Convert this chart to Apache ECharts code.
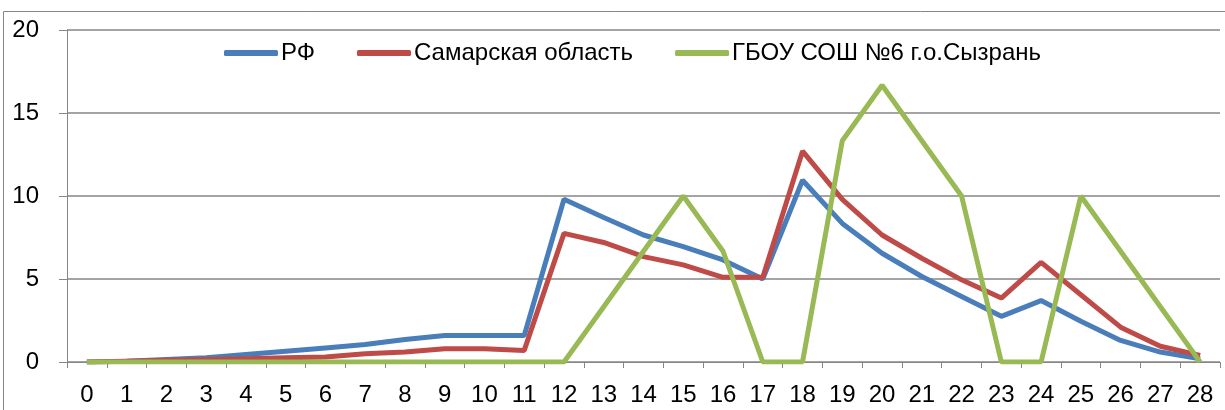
<!DOCTYPE html>
<html>
<head>
<meta charset="utf-8">
<script src="https://cdn.jsdelivr.net/npm/echarts@6/dist/echarts.min.js"></script>
<style>
  html, body { margin: 0; padding: 0; background: #fff; }
  #chart { width: 1225px; height: 410px; }
</style>
</head>
<body>
<div id="chart"></div>
<script>
  const categories = ['0', '1', '2', '3', '4', '5', '6', '7', '8', '9', '10', '11', '12', '13', '14',
    '15', '16', '17', '18', '19', '20', '21', '22', '23', '24', '25', '26', '27', '28']
  const rf = [0, 0.05, 0.15, 0.25, 0.45, 0.65, 0.85, 1.05, 1.35, 1.6, 1.6, 1.6, 9.8, 8.7, 7.65,
    6.95, 6.15, 5.0, 10.95, 8.35, 6.55, 5.15, 3.95, 2.75, 3.7, 2.45, 1.3, 0.6, 0.2]
  const samara = [0, 0.05, 0.1, 0.15, 0.2, 0.25, 0.3, 0.5, 0.6, 0.8, 0.8, 0.7, 7.75, 7.2, 6.35,
    5.85, 5.1, 5.1, 12.7, 9.8, 7.65, 6.25, 4.95, 3.85, 6.0, 4.05, 2.1, 0.95, 0.4]
  const school = [0, 0, 0, 0, 0, 0, 0, 0, 0, 0, 0, 0, 0, 3.33, 6.67,
    10, 6.67, 0, 0, 13.33, 16.67, 13.33, 10, 0, 0, 10, 6.67, 3.33, 0]
  const seriesNames = ['РФ', 'Самарская область', 'ГБОУ СОШ №6 г.о.Сызрань']
  const colors = ['#4a7ebb', '#be4b48', '#98b954']

  const font = '"Liberation Sans Narrow", "Liberation Sans", sans-serif'
  const gray = '#868686'

  const chart = echarts.init(document.getElementById('chart'))

  const makeLine = (name, data, i) => ({
    name,
    type: 'line',
    data,
    symbol: 'none',
    lineStyle: { width: 5, color: colors[i] },
    itemStyle: { color: colors[i] },
    z: 3 + i,
  })

  chart.setOption({
    animation: false,
    textStyle: { fontFamily: font },
    graphic: [
      {
        type: 'rect',
        shape: { x: 3.5, y: 11.5, width: 1300, height: 500 },
        style: { fill: 'none', stroke: gray, lineWidth: 1 },
        silent: true,
      },
    ],
    grid: { left: 67, right: 5, top: 30, bottom: 48 },
    legend: {
      left: 219,
      top: 36,
      itemWidth: 54,
      itemHeight: 6,
      itemGap: 42,
      icon: 'roundRect',
      textStyle: { fontFamily: font, fontSize: 24, color: '#000', padding: [0, 0, 0, -2] },
      data: seriesNames,
    },
    xAxis: {
      type: 'category',
      data: categories,
      boundaryGap: true,
      axisLine: { lineStyle: { color: gray, width: 1 } },
      axisTick: { show: true, length: 6, lineStyle: { color: gray } },
      axisLabel: { color: '#000', fontSize: 24, fontFamily: font, margin: 21, interval: 0 },
      splitLine: { show: false },
    },
    yAxis: {
      type: 'value',
      min: 0,
      max: 20,
      interval: 5,
      axisLine: { show: true, lineStyle: { color: gray, width: 1 } },
      axisTick: { show: true, length: 8, lineStyle: { color: gray } },
      axisLabel: { color: '#000', fontSize: 24, fontFamily: font, margin: 28 },
      splitLine: { lineStyle: { color: gray, width: 1.5 } },
    },
    series: [
      makeLine(seriesNames[0], rf, 0),
      makeLine(seriesNames[1], samara, 1),
      makeLine(seriesNames[2], school, 2),
    ],
  })
</script>
</body>
</html>
